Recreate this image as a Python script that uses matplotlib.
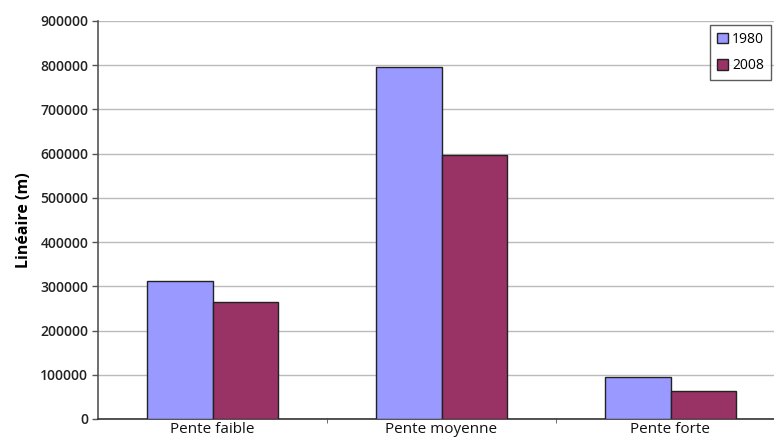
import matplotlib
matplotlib.use("Agg")
import matplotlib.pyplot as plt
import numpy as np

categories = ["Pente faible", "Pente moyenne", "Pente forte"]
series_names = ["1980", "2008"]
values_1980 = [312000, 796000, 95000]
values_2008 = [265000, 597000, 63000]
yticks = [0, 100000, 200000, 300000, 400000, 500000, 600000, 700000, 800000, 900000]

plt.rcParams['font.family'] = ['Open Sans', 'DejaVu Sans']

fig = plt.figure(figsize=(7.74, 4.41), dpi=100)
ax = fig.add_axes([98/774, 22/441, 687/774, 398/441])

x = np.arange(len(categories))
w = 0.285
ax.bar(x - w/2, values_1980, w, color="#9999FF", edgecolor="#222222", linewidth=1.0, label=series_names[0], zorder=3)
ax.bar(x + w/2, values_2008, w, color="#993366", edgecolor="#222222", linewidth=1.0, label=series_names[1], zorder=3)

ax.set_xlim(-0.5, 2.5)
ax.set_ylim(0, 900000)
ax.set_yticks(yticks)
ax.set_yticklabels([str(v) for v in yticks], fontsize=10, fontweight='semibold', color="#222222")
ax.set_xticks(x)
ax.set_xticklabels(categories, fontsize=11, fontweight='medium', color="#111111")
ax.tick_params(axis='x', length=0, pad=2)
ax.tick_params(axis='y', length=4, width=1, color="#555555", pad=3)
ax.set_xticks([0.5, 1.5], minor=True)
ax.tick_params(axis='x', which='minor', length=3, color="#555555")
ax.yaxis.grid(True, color="#BBBBBB", linewidth=1.0, zorder=0)
ax.set_axisbelow(True)
for s in ['top', 'right']:
    ax.spines[s].set_visible(False)
ax.spines['left'].set_color("#555555")
ax.spines['bottom'].set_color("#333333")
ax.spines['left'].set_linewidth(1.2)
ax.spines['bottom'].set_linewidth(1.2)
ax.set_ylabel("Linéaire (m)", fontsize=11.5, fontweight='bold', labelpad=6)

leg = fig.legend(loc='upper right', bbox_to_anchor=(771/774, 1 - 25/441), fontsize=10,
                 frameon=True, fancybox=False, edgecolor="#333333", handlelength=0.8,
                 handleheight=0.8, handletextpad=0.3, borderpad=0.5, labelspacing=0.8,
                 borderaxespad=0)
leg.get_frame().set_linewidth(1.0)

fig.savefig("out.png", dpi=100)
